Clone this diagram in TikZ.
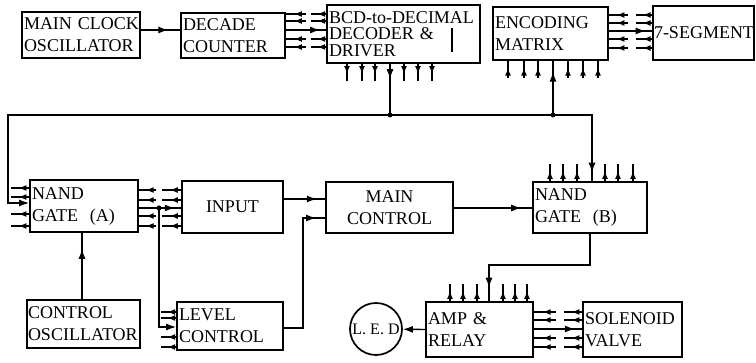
\documentclass[tikz,border=0pt]{standalone}
\usepackage{fontspec}
\setmainfont{Liberation Serif}
\usetikzlibrary{arrows.meta,decorations.markings,calc}
\tikzset{
  box/.style={draw, line width=1.7pt, inner xsep=2pt, inner ysep=0pt,
    font=\fontsize{18}{22}\selectfont, align=left},
  conn/.style={line width=1.4pt},
  tip/.style={-{Latex[length=10pt,width=7pt]}},
  midtip/.style={postaction={decorate}, decoration={markings,
    mark=at position #1 with {\arrow{Latex[length=10pt,width=7pt]}}}},
  stubFwd/.style={line width=1.5pt, postaction={decorate}, decoration={markings,
    mark=at position 0.6 with {\arrow{Latex[length=8pt,width=6pt]}}}},
  stubRev/.style={line width=1.5pt, postaction={decorate}, decoration={markings,
    mark=at position 0.4 with {\arrowreversed{Latex[length=8pt,width=6pt]}}}},
}
\begin{document}
\begin{tikzpicture}[x=1pt,y=-1pt]
\useasboundingbox (0,0) rectangle (756,363);

% ---- boxes ----
\node[box, text width=114pt, minimum height=46pt] (clk) at (81,35) {\mbox{MAIN CLOCK}\\\mbox{OSCILLATOR}};
\node[box, text width=100pt, minimum height=45pt] (dec) at (233,35.5) {DECADE\\COUNTER};
\node[box, text width=149pt, minimum height=58pt, font=\fontsize{18}{16.5}\selectfont] (bcd) at (403.5,34) {\mbox{BCD-to-DECIMAL}\\\mbox{DECODER \&}\\DRIVER};
\node[box, text width=111pt, minimum height=53pt] (enc) at (550.5,33.5) {ENCODING\\MATRIX};
\node[box, inner xsep=1pt, text width=99pt, minimum height=54pt] (seg) at (703.5,33) {\mbox{7-SEGMENT}};

\node[box, text width=104pt, minimum height=52pt] (nanda) at (84,206) {NAND\\\mbox{GATE~~(A)}};
\node[box, text width=97pt, minimum height=52pt, align=center] (input) at (232.5,207) {INPUT};
\node[box, text width=123pt, minimum height=51pt, align=center] (main) at (389.5,207.5) {MAIN\\CONTROL};
\node[box, text width=110pt, minimum height=51pt] (nandb) at (590,207.5) {NAND\\\mbox{GATE~~(B)}};

\node[box, inner xsep=1pt, text width=111pt, minimum height=48pt] (cosc) at (83.5,324) {CONTROL\\\mbox{OSCILLATOR}};
\node[box, text width=102pt, minimum height=48pt] (level) at (230,326) {LEVEL\\CONTROL};
\node[draw, circle, line width=1.7pt, minimum size=52pt, inner sep=0pt, font=\fontsize{16}{18}\selectfont] (led) at (376,329) {L. E. D};
\node[box, text width=103pt, minimum height=55pt] (amp) at (479.5,329.5) {\mbox{AMP \&}\\RELAY};
\node[box, text width=95pt, minimum height=55pt] (sol) at (632.5,329.5) {\mbox{SOLENOID}\\VALVE};

\draw[line width=1.2pt] (452,28) -- (452,52);

% ---- clock -> decade ----
\draw[conn, midtip=0.7] (clk.east |- 0,30) -- (dec.west |- 0,30);

% ---- decade -> BCD bus ----
\foreach \y in {14,21,39,47}{
  \draw[stubRev] (dec.east |- 0,\y) -- ++(20,0);
  \draw[stubFwd] (bcd.west |- 0,\y) -- ++(-15,0);
}
\draw[conn, midtip=0.85] (dec.east |- 0,30) -- (bcd.west |- 0,30);

% ---- BCD outputs ----
\foreach \x in {347,362,375,404,418,432}{
  \draw[stubFwd] (\x,0 |- bcd.south) -- ++(0,17);
}

% ---- encoding inputs ----
\foreach \x in {508,524,538,568,583,598}{
  \draw[stubRev] (\x,0 |- enc.south) -- ++(0,17);
}

% ---- encoding -> 7-segment ----
\foreach \y in {15,23,39,48}{
  \draw[stubRev] (enc.east |- 0,\y) -- ++(19,0);
  \draw[stubFwd] (seg.west |- 0,\y) -- ++(-16,0);
}
\draw[conn, midtip=0.85] (enc.east |- 0,31) -- (seg.west |- 0,31);

% ---- common bus ----
\coordinate (jb) at (390,115);
\coordinate (je) at (553,115);
\coordinate (bl) at (8,115);
\coordinate (br) at (592,115);
\draw[conn, midtip=0.3] (jb |- bcd.south) -- (jb);
\draw[conn, tip] (jb) -- (bl) |- (nanda.west |- 0,203);
\draw[conn] (jb) -- (je);
\draw[conn, midtip=0.8] (je) -- (je |- enc.south);
\draw[conn, midtip=0.92] (je) -- (br) -- (br |- nandb.north);
\fill (jb) circle (2.4pt);
\fill (je) circle (2.4pt);

% ---- NAND B top stubs ----
\foreach \x in {550,563,577,605,618,633}{
  \draw[stubFwd] (\x,0 |- nandb.north) -- ++(0,-17);
}

% ---- NAND A left stubs ----
\foreach \y in {188,197,214,226}{
  \draw[stubFwd] (nanda.west |- 0,\y) -- ++(-18,0);
}

% ---- NAND A -> INPUT ----
\foreach \y in {190,200,216,226}{
  \draw[stubRev] (nanda.east |- 0,\y) -- ++(17,0);
  \draw[stubFwd] (input.west |- 0,\y) -- ++(-19,0);
}
\draw[conn, midtip=0.85] (nanda.east |- 0,208) -- (input.west |- 0,208);
\coordinate (ja) at (159,208);
\fill (ja) circle (2.6pt);
\draw[conn, tip] (ja) |- (level.west |- 0,327);

% ---- level control left stubs ----
\foreach \y in {312,318,337,347}{
  \draw[stubFwd] (level.west |- 0,\y) -- ++(-15,0);
}

% ---- control oscillator -> NAND A ----
\draw[conn, midtip=0.76] (cosc.north -| 82,0) -- (nanda.south -| 82,0);

% ---- INPUT / LEVEL -> MAIN CONTROL ----
\draw[conn, midtip=0.8] (input.east |- 0,199) -- (main.west |- 0,199);
\coordinate (lc) at (303,218);
\draw[conn, midtip=0.94] (level.east |- 0,328) -| (lc) -- (main.west |- 0,218);

% ---- MAIN CONTROL -> NAND B ----
\draw[conn, midtip=0.86] (main.east |- 0,208) -- (nandb.west |- 0,208);

% ---- NAND B -> AMP ----
\coordinate (c1) at (590,265);
\coordinate (c2) at (489,265);
\draw[conn, midtip=0.92] (nandb.south -| c1) -- (c1) -- (c2) -- (c2 |- amp.north);
\foreach \x in {450,463,477,503,515,527}{
  \draw[stubFwd] (\x,0 |- amp.north) -- ++(0,-17);
}

% ---- AMP -> LED ----
\draw[conn, tip] (amp.west) -- (led);

% ---- AMP -> SOLENOID ----
\foreach \y in {312,320,338,347}{
  \draw[stubRev] (amp.east |- 0,\y) -- ++(22,0);
  \draw[stubFwd] (sol.west |- 0,\y) -- ++(-18,0);
}
\draw[conn, midtip=0.85] (amp.east |- 0,329) -- (sol.west |- 0,329);
\end{tikzpicture}
\end{document}
